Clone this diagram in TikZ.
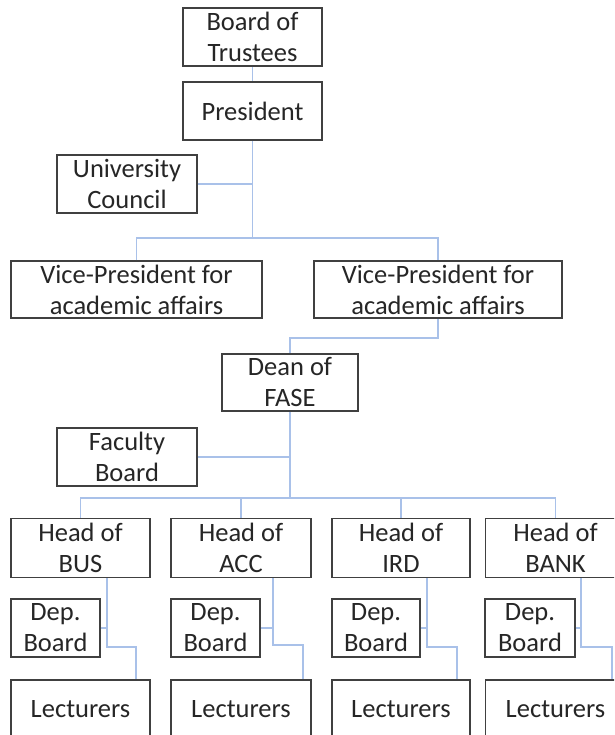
\documentclass[tikz,border=0pt]{standalone}
\usepackage{fontspec}
\setmainfont{Carlito}
\definecolor{boxline}{HTML}{404040}
\definecolor{txt}{HTML}{262626}
\definecolor{conncol}{HTML}{A9C1E9}
\tikzset{
  orgbox/.style={draw=boxline, line width=1.8pt, fill=white, inner xsep=2pt, inner ysep=0pt,
    align=center, text=txt, font=\fontsize{26.5}{31}\selectfont, minimum height=58pt},
  conn/.style={draw=conncol, line width=1.5pt}
}
\begin{document}
\begin{tikzpicture}[x=1pt,y=-1pt]
\useasboundingbox (0,0) rectangle (614,735);
\clip (0,0) rectangle (614,735);
% top
\node[orgbox, minimum width=139pt] (bot) at (252.5,37) {Board of\\Trustees};
\node[orgbox, minimum width=139pt] (pres) at (252.5,111) {President};
\node[orgbox, minimum width=140pt] (uc) at (127,184) {University\\Council};
\node[orgbox, minimum width=251pt, minimum height=57pt] (vp1) at (136.5,289.5) {Vice-President for\\academic affairs};
\node[orgbox, minimum width=248pt, minimum height=57pt] (vp2) at (438,289.5) {Vice-President for\\academic affairs};
\node[orgbox, minimum width=136pt, minimum height=57pt] (dean) at (290,382.5) {Dean of\\FASE};
\node[orgbox, minimum width=140pt] (fb) at (127,457) {Faculty\\Board};
% heads
\node[orgbox, minimum width=139pt, minimum height=59pt] (hbus) at (80.5,548) {Head of\\BUS};
\node[orgbox, minimum width=140pt, minimum height=59pt] (hacc) at (241,548) {Head of\\ACC};
\node[orgbox, minimum width=138pt, minimum height=59pt] (hird) at (401,548) {Head of\\IRD};
\node[orgbox, minimum width=140pt, minimum height=59pt] (hbank) at (555.5,548) {Head of\\BANK};
% dep boards
\node[orgbox, minimum width=89pt] (dbus) at (55.5,628) {Dep.\\Board};
\node[orgbox, minimum width=89pt] (dacc) at (215.5,628) {Dep.\\Board};
\node[orgbox, minimum width=88pt] (dird) at (376,628) {Dep.\\Board};
\node[orgbox, minimum width=90pt] (dbank) at (530,628) {Dep.\\Board};
% lecturers
\node[orgbox, minimum width=139pt] (lbus) at (80.5,709) {Lecturers};
\node[orgbox, minimum width=140pt] (lacc) at (241,709) {Lecturers};
\node[orgbox, minimum width=138pt] (lird) at (401,709) {Lecturers};
\node[orgbox, minimum width=140pt] (lbank) at (555.5,709) {Lecturers};
% coordinates
\coordinate (vpbar) at (0,238);
\coordinate (dj) at (0,338);
\coordinate (hbar) at (0,498);
% connectors top
\draw[conn] (bot.south) -- (pres.north);
\draw[conn] (pres.south) -- (pres.south |- vpbar);
\draw[conn] (uc.east) -- (uc.east -| pres.south);
\draw[conn] (vp1.north) -- (vp1.north |- vpbar) -- (vp2.north |- vpbar) -- (vp2.north);
\draw[conn] (vp2.south) -- (vp2.south |- dj) -- (dean.north |- dj) -- (dean.north);
\draw[conn] (dean.south) -- (dean.south |- hbar);
\draw[conn] (fb.east) -- (fb.east -| dean.south);
\draw[conn] (hbus.north) -- (hbus.north |- hbar) -- (hbank.north |- hbar) -- (hbank.north);
\draw[conn] (hacc.north) -- (hacc.north |- hbar);
\draw[conn] (hird.north) -- (hird.north |- hbar);
% department connectors
\coordinate (b1) at (107,647); \coordinate (b2) at (136,647);
\draw[conn] (hbus.south -| b1) -- (b1) -- (b2) -- (lbus.north -| b2);
\draw[conn] (dbus.east) -- (dbus.east -| b1);
\coordinate (c1) at (273,645); \coordinate (c2) at (303,645);
\draw[conn] (hacc.south -| c1) -- (c1) -- (c2) -- (lacc.north -| c2);
\draw[conn] (dacc.east) -- (dacc.east -| c1);
\coordinate (d1) at (427,647); \coordinate (d2) at (457,647);
\draw[conn] (hird.south -| d1) -- (d1) -- (d2) -- (lird.north -| d2);
\draw[conn] (dird.east) -- (dird.east -| d1);
\coordinate (e1) at (581,647); \coordinate (e2) at (612,647);
\draw[conn] (hbank.south -| e1) -- (e1) -- (e2) -- (lbank.north -| e2);
\draw[conn] (dbank.east) -- (dbank.east -| e1);
\end{tikzpicture}
\end{document}
